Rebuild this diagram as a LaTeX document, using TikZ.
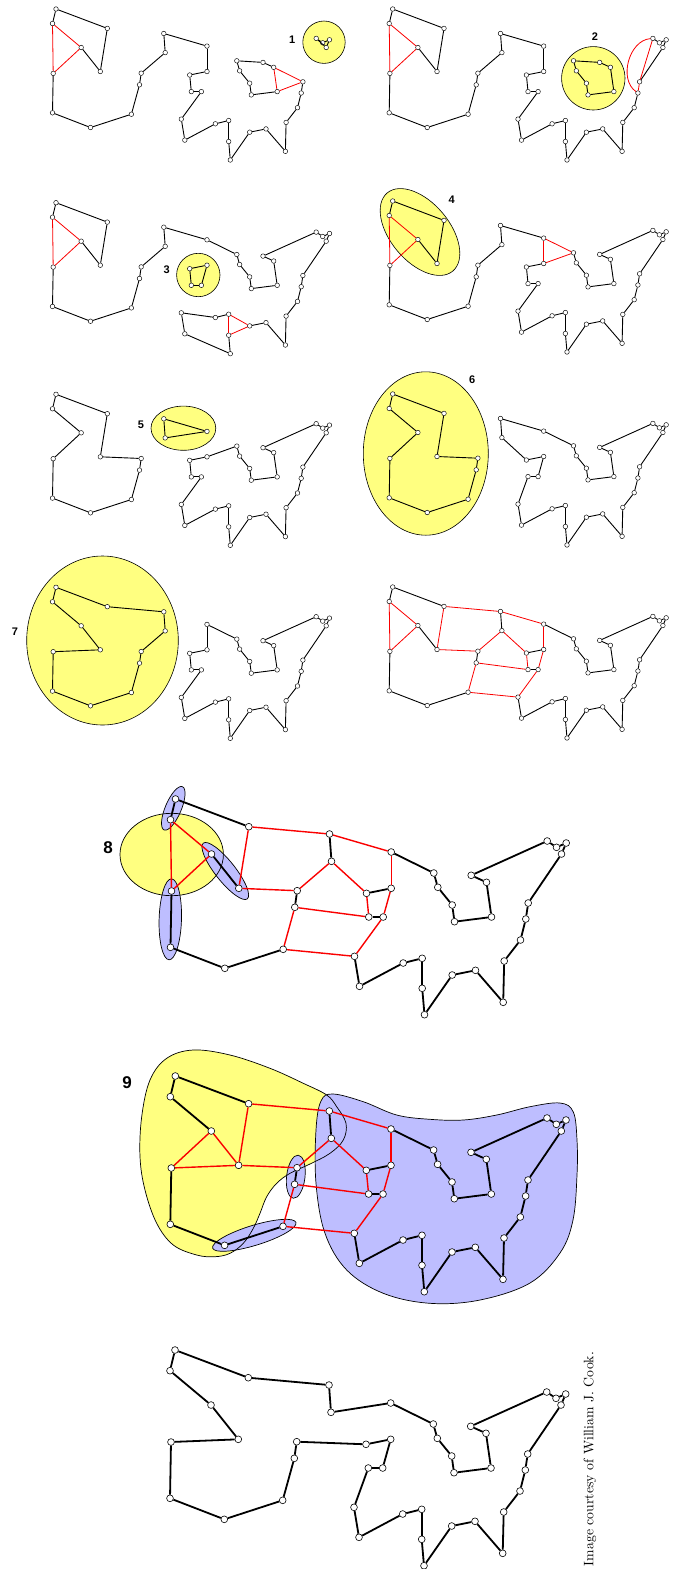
\documentclass[tikz,border=0pt]{standalone}
\usepackage{fontspec}
\usepackage{graphicx}
\newfontfamily\labelfont{Liberation Sans}
\definecolor{yel}{RGB}{255,255,128}
\definecolor{blu}{RGB}{190,190,255}
\definecolor{tspred}{RGB}{250,0,0}
\def\cityList{1/0/0, 2/-5/20.7, 3/73.3/27.7, 4/154/35, 5/156/62.3, 6/215.7/53, 7/258.3/74, 8/262.3/88.3, 9/276.7/106, 10/279/122.7, 11/316/118, 12/311/83.3, 13/295.7/76.3, 14/371.7/42, 15/381/48.3, 16/390.7/44, 17/386/55, 18/352.7/104, 19/350.3/120, 20/345/141, 21/328.7/162, 22/327.7/203.3, 23/300/171.3, 24/276.7/176, 25/249/215.7, 26/246.7/189.3, 27/246.7/159.3, 28/227.7/164, 29/184/187.3, 30/179/157.3, 31/193.3/118, 32/207.7/118, 33/215.7/89.3, 34/191/94.3, 35/121.7/91.7, 36/119.3/108.3, 37/107.7/150.3, 38/49.3/169.3, 39/-5/148.3, 40/-4/92, 41/63.3/89.3, 42/36/55}
\def\mainchain{7/8, 8/9, 9/10, 10/11, 11/12, 12/13, 13/14, 14/15, 15/16, 16/17, 17/18, 18/19, 19/20, 20/21, 21/22, 22/23, 23/24, 24/25, 25/26, 26/27, 27/28, 28/29, 29/30}
\def\leftpart{1/2, 1/3, 3/41, 41/42, 40/39, 39/38, 38/37, 37/36, 36/35, 35/5, 5/4, 4/6}
\def\redtri{2/42, 42/40, 2/40}
\newcommand\cities[5]{%
  \begin{scope}[shift={(#2,#3)},scale=#4]
    \foreach \i/\cx/\cy in \cityList {\node[#5] (#1-\i) at (\cx,\cy) {};}
  \end{scope}}
\newcommand\links[3]{\edef\tmplist{#3}\foreach \ia/\ib in \tmplist {\draw[#2] (#1-\ia) -- (#1-\ib);}}
\tikzset{
  cs/.style={circle, draw, fill=white, inner sep=0pt, minimum size=4.6pt, line width=0.45pt},
  cb/.style={circle, draw, fill=white, inner sep=0pt, minimum size=6.8pt, line width=0.6pt},
  bs/.style={line width=0.9pt},
  rs/.style={tspred, line width=0.8pt},
  bb/.style={line width=1.8pt},
  rb/.style={tspred, line width=1.4pt},
  yfill/.style={fill=yel, draw=black, line width=0.6pt},
  bfill/.style={fill=blu, draw=black, line width=0.6pt},
  lab/.style={font=\labelfont\bfseries\fontsize{11}{11}\selectfont},
  labbig/.style={font=\labelfont\bfseries\fontsize{17}{17}\selectfont},
}
\begin{document}
\begin{tikzpicture}[x=1pt,y=-1pt]
\useasboundingbox (0,0) rectangle (679,1569);

% ---------- panel 1
\draw[yfill] (324,42.2) circle[radius=21.2pt];
\node[lab] (l1) at (292.3,40) {1};
\cities{pa}{56}{9}{0.7}{cs}
\links{pa}{bs}{\leftpart, 6/33, 33/34, 34/31, 31/32, 32/30, 30/29, 29/28, 28/27, 27/26, 26/25, 25/24, 24/23, 23/22, 22/21, 21/20, 20/19, 19/18, 12/13, 13/7, 7/8, 8/9, 9/10, 10/11, 14/15, 15/16, 16/17, 17/14}
\links{pa}{rs}{\redtri, 18/12, 18/11, 12/11}

% ---------- panel 2
\draw[yfill] (593.3,78.3) circle[radius=31.7pt];
\node[lab] (l2) at (595,36.7) {2};
\cities{pb}{392.7}{9}{0.7}{cs}
\links{pb}{bs}{\leftpart, 6/33, 33/34, 34/31, 31/32, 32/30, 30/29, 29/28, 28/27, 27/26, 26/25, 25/24, 24/23, 23/22, 22/21, 21/20, 20/19, 14/15, 15/16, 16/17, 17/18, 7/13, 13/12, 12/11, 11/10, 10/9, 9/8, 8/7}
\links{pb}{rs}{\redtri, 14/18, 18/19}
\draw[rs] (pb-14) to[bend right=70] (pb-19);

% ---------- panel 3
\draw[yfill] (198.3,275) circle[radius=21.7pt];
\node[lab] (l3) at (166.7,270) {3};
\cities{pc}{56}{202.7}{0.7}{cs}
\links{pc}{bs}{\leftpart, 6/7, 7/8, 8/9, 9/10, 10/11, 11/12, 12/13, 13/14, 14/15, 15/16, 16/17, 17/18, 18/19, 19/20, 20/21, 21/22, 22/23, 23/24, 26/25, 25/29, 29/30, 30/28, 28/27, 34/33, 33/32, 32/31, 31/34}
\links{pc}{rs}{\redtri, 27/26, 27/24, 26/24}

% ---------- panel 4
\draw[yfill, rotate around={-50:(420,232)}] (420,232) ellipse[x radius=51pt, y radius=29.5pt];
\node[lab] (l4) at (451.7,199.3) {4};
\cities{pd}{392.7}{201}{0.7}{cs}
\links{pd}{bs}{\leftpart, \mainchain, 30/32, 32/31, 31/34, 34/33}
\links{pd}{rs}{\redtri, 6/33, 6/7, 7/33}

% ---------- panel 5
\draw[yfill] (183.4,428.2) ellipse[x radius=32.4pt, y radius=22.1pt];
\node[lab] (l5) at (141,424.3) {5};
\cities{pe}{56}{394.3}{0.7}{cs}
\links{pe}{bs}{1/2, 1/3, 3/41, 41/35, 35/36, 36/37, 37/38, 38/39, 39/40, 40/42, 42/2, 4/6, 6/5, 5/4, 34/33, 33/7, \mainchain, 30/32, 32/31, 31/34}

% ---------- panel 6
\draw[yfill] (425.8,453.5) ellipse[x radius=62.5pt, y radius=81.7pt];
\node[lab] (l6) at (472.3,380) {6};
\cities{pf}{392.7}{394}{0.7}{cs}
\links{pf}{bs}{1/2, 1/3, 3/41, 41/35, 35/36, 36/37, 37/38, 38/39, 39/40, 40/42, 42/2, 4/6, 4/5, 5/34, 34/33, 33/32, 32/31, 31/30, 6/7, \mainchain}

% ---------- panel 7
\draw[yfill] (102.5,640.5) ellipse[x radius=75.8pt, y radius=84.5pt];
\node[lab] (l7) at (15,631.7) {7};
\cities{pg}{56}{587.3}{0.7}{cs}
\links{pg}{bs}{1/2, 1/3, 3/4, 4/5, 5/35, 35/36, 36/37, 37/38, 38/39, 39/40, 40/41, 41/42, 42/2, 6/7, \mainchain, 30/32, 32/31, 31/34, 34/33, 33/6}

% ---------- panel 8 small
\cities{ph}{392.7}{587}{0.7}{cs}
\links{ph}{bs}{1/2, 1/3, 4/5, 6/7, \mainchain, 33/34, 31/32, 35/36, 37/38, 38/39, 39/40, 42/41}
\links{ph}{rs}{3/4, 3/41, 4/6, 6/33, 5/34, 5/35, 41/35, 36/31, 36/37, 37/30, 30/32, 32/33, 31/34, 2/40, 2/42, 40/42}

% ---------- panel 8 big
\fill[yel] (171.7,854.5) ellipse[x radius=51.7pt, y radius=41.2pt];
\fill[blu, rotate around={67:(173.3,808.3)}] (173.3,808.3) ellipse[x radius=23.5pt, y radius=8pt];
\fill[blu, rotate around={-51.7:(225.3,871)}] (225.3,871) ellipse[x radius=35.5pt, y radius=10pt];
\fill[blu, rotate around={88.3:(170.3,919.3)}] (170.3,919.3) ellipse[x radius=40.5pt, y radius=11.2pt];
\draw[line width=0.7pt] (171.7,854.5) ellipse[x radius=51.7pt, y radius=41.2pt];
\draw[line width=0.7pt, rotate around={67:(173.3,808.3)}] (173.3,808.3) ellipse[x radius=23.5pt, y radius=8pt];
\draw[line width=0.7pt, rotate around={-51.7:(225.3,871)}] (225.3,871) ellipse[x radius=35.5pt, y radius=10pt];
\draw[line width=0.7pt, rotate around={88.3:(170.3,919.3)}] (170.3,919.3) ellipse[x radius=40.5pt, y radius=11.2pt];
\node[labbig] (l8) at (108,848) {8};
\cities{pi}{175.5}{799}{1}{cb}
\links{pi}{bb}{1/2, 1/3, 4/5, 6/7, \mainchain, 33/34, 31/32, 35/36, 37/38, 38/39, 39/40, 42/41}
\links{pi}{rb}{3/4, 3/41, 4/6, 6/33, 5/34, 5/35, 41/35, 36/31, 36/37, 37/30, 30/32, 32/33, 31/34, 2/40, 2/42, 40/42}

% ---------- panel 9
\fill[yel] plot[smooth cycle, tension=0.6] coordinates {(141.7,1116.7) (150,1080) (166.7,1058.3) (193.3,1050) (230,1055) (270,1068.3) (303.3,1083.3) (326.7,1095) (336.7,1106.7) (346,1123.3) (343.3,1140) (330,1153.3) (310,1164) (290,1173.3) (276.7,1183.3) (266.7,1196.7) (260,1213.3) (253.3,1228.3) (243.3,1243.3) (230,1253.3) (215,1256.7) (196.7,1255) (173.3,1245) (156.7,1223.3) (145,1190) (140,1156.7)};
\fill[blu] plot[smooth cycle, tension=0.6] coordinates {(321,1101) (333,1094) (363.3,1101.7) (396.7,1115) (430,1119.3) (463.3,1120) (496.7,1115) (530,1106.7) (560,1103) (573.3,1112) (577,1140) (577,1175) (573,1220) (560,1253) (530,1283) (480,1300) (430,1303.3) (383.3,1293.3) (346.7,1270) (325,1233.3) (316,1183.3) (316,1130)};
\fill[blu, rotate around={83.4:(295.8,1176.7)}] (295.8,1176.7) ellipse[x radius=21.7pt, y radius=9.2pt];
\fill[blu, rotate around={17.1:(254.3,1235.3)}] (254.3,1235.3) ellipse[x radius=43.6pt, y radius=10pt];
\draw[line width=0.7pt] plot[smooth cycle, tension=0.6] coordinates {(141.7,1116.7) (150,1080) (166.7,1058.3) (193.3,1050) (230,1055) (270,1068.3) (303.3,1083.3) (326.7,1095) (336.7,1106.7) (346,1123.3) (343.3,1140) (330,1153.3) (310,1164) (290,1173.3) (276.7,1183.3) (266.7,1196.7) (260,1213.3) (253.3,1228.3) (243.3,1243.3) (230,1253.3) (215,1256.7) (196.7,1255) (173.3,1245) (156.7,1223.3) (145,1190) (140,1156.7)};
\draw[line width=0.7pt] plot[smooth cycle, tension=0.6] coordinates {(321,1101) (333,1094) (363.3,1101.7) (396.7,1115) (430,1119.3) (463.3,1120) (496.7,1115) (530,1106.7) (560,1103) (573.3,1112) (577,1140) (577,1175) (573,1220) (560,1253) (530,1283) (480,1300) (430,1303.3) (383.3,1293.3) (346.7,1270) (325,1233.3) (316,1183.3) (316,1130)};
\draw[line width=0.7pt, rotate around={83.4:(295.8,1176.7)}] (295.8,1176.7) ellipse[x radius=21.7pt, y radius=9.2pt];
\draw[line width=0.7pt, rotate around={17.1:(254.3,1235.3)}] (254.3,1235.3) ellipse[x radius=43.6pt, y radius=10pt];
\node[labbig] (l9) at (127,1083) {9};
\cities{pj}{175.3}{1076}{1}{cb}
\links{pj}{bb}{1/2, 1/3, 2/42, 4/5, 6/7, \mainchain, 33/34, 31/32, 35/36, 37/38, 38/39, 39/40}
\links{pj}{rb}{3/4, 3/41, 4/6, 6/33, 34/31, 32/33, 32/30, 30/37, 37/36, 36/31, 35/5, 5/34, 35/41, 41/42, 42/40, 40/41}

% ---------- final tour
\cities{pk}{175}{1350}{1}{cb}
\links{pk}{bb}{1/2, 1/3, 3/4, 4/5, 5/6, 6/7, \mainchain, 30/31, 31/32, 32/33, 33/34, 34/35, 35/36, 36/37, 37/38, 38/39, 39/40, 40/41, 41/42, 42/2}

% ---------- credit
\node[rotate=90, inner sep=0pt] (credit) at (590,1459) {\resizebox{214pt}{!}{Image courtesy of William J. Cook.}};
\end{tikzpicture}
\end{document}
